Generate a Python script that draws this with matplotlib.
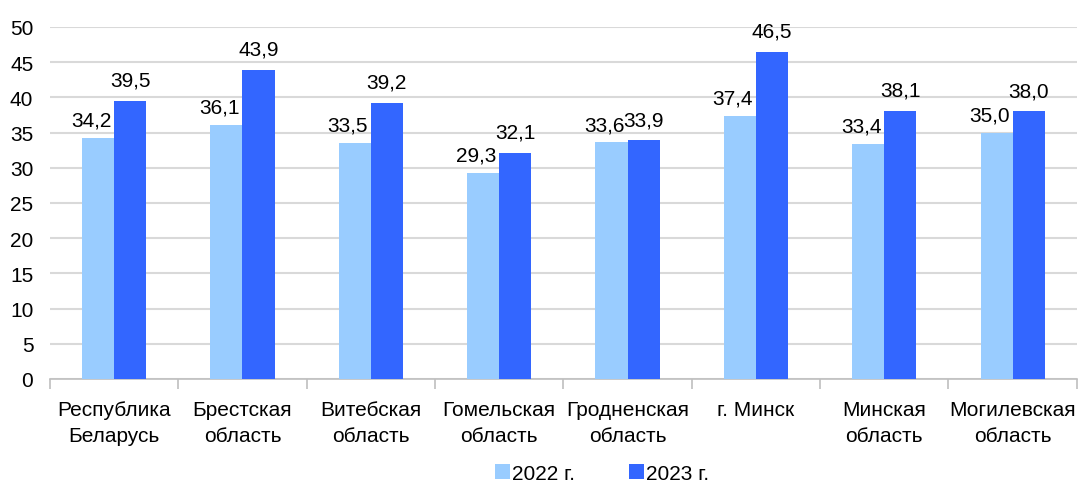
import matplotlib
matplotlib.use("Agg")
import matplotlib.pyplot as plt
import numpy as np

plt.rcParams['font.family'] = ['Liberation Sans', 'DejaVu Sans']

categories = ["Республика\nБеларусь", "Брестская\nобласть", "Витебская\nобласть",
              "Гомельская\nобласть", "Гродненская\nобласть", "г. Минск",
              "Минская\nобласть", "Могилевская\nобласть"]
values_2022 = [34.2, 36.1, 33.5, 29.3, 33.6, 37.4, 33.4, 35.0]
values_2023 = [39.5, 43.9, 39.2, 32.1, 33.9, 46.5, 38.1, 38.0]
series_labels = ["2022 г.", "2023 г."]
colors = ["#99ccff", "#3366ff"]

fig = plt.figure(figsize=(10.79, 4.85), dpi=100)
ax = fig.add_axes([0.0463, 0.2165, 0.9517, 0.7258])

x = np.arange(len(categories))
w = 0.25
b1 = ax.bar(x - w / 2, values_2022, w, color=colors[0], label=series_labels[0], zorder=3)
b2 = ax.bar(x + w / 2, values_2023, w, color=colors[1], label=series_labels[1], zorder=3)

def fmt(v):
    return f"{v:.1f}".replace(".", ",")

for bars, vals, dx, dy in ((b1, values_2022, -5, 6), (b2, values_2023, 0, 8)):
    for rect, v in zip(bars, vals):
        ax.annotate(fmt(v), (rect.get_x() + rect.get_width() / 2, v),
                    xytext=(dx, dy), textcoords="offset points",
                    ha="center", va="bottom", fontsize=15, color="#000000")

ax.set_xlim(-0.5, len(categories) - 0.5)
ax.set_ylim(0, 50)
ax.set_yticks(np.arange(0, 51, 5))
ax.yaxis.grid(True, color="#d9d9d9", linewidth=1.5, zorder=0)
ax.set_axisbelow(True)

for s in ("top", "right", "left"):
    ax.spines[s].set_visible(False)
ax.spines["bottom"].set_color("#bfbfbf")
ax.spines["bottom"].set_linewidth(1.2)
ax.tick_params(axis="y", length=0, labelsize=15, pad=12)

# category labels in the middle, tick marks on category boundaries
ax.set_xticks(x)
ax.set_xticklabels(categories, fontsize=15, linespacing=1.45)
ax.tick_params(axis="x", which="major", length=0, pad=15)
ax.set_xticks(np.arange(-0.5, len(categories)), minor=True)
ax.tick_params(axis="x", which="minor", length=7, color="#bfbfbf", width=1.2)

fig.legend(handles=[b1, b2], labels=series_labels, loc="center",
           bbox_to_anchor=(0.558, 0.022), ncol=2, frameon=False, fontsize=15,
           handlelength=0.7, handleheight=0.7, handletextpad=0.1,
           columnspacing=2.6, borderpad=0)

fig.savefig("out.png", dpi=100)
